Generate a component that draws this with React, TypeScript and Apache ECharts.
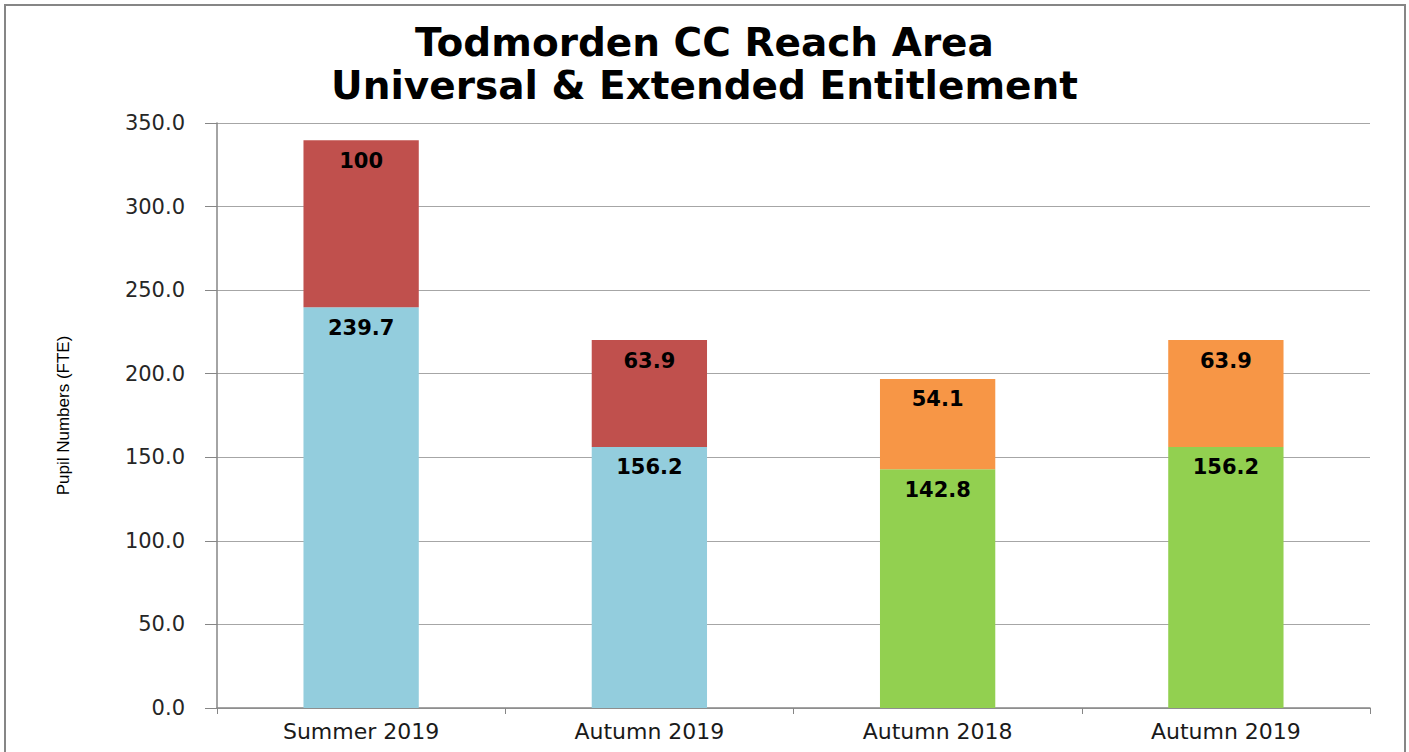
import React, { useEffect, useRef } from "react";
import * as echarts from "echarts";

const titleLines = ["Todmorden CC Reach Area", "Universal & Extended Entitlement"];
const categories = ["Summer 2019", "Autumn 2019", "Autumn 2018", "Autumn 2019"];
const universal = [239.7, 156.2, 142.8, 156.2];
const extended = [100, 63.9, 54.1, 63.9];
const universalColors = ["#93CDDD", "#93CDDD", "#92D050", "#92D050"];
const extendedColors = ["#C0504D", "#C0504D", "#F79646", "#F79646"];
const yName = "Pupil Numbers (FTE)";

export default function App() {
  const ref = useRef<HTMLDivElement>(null);
  useEffect(() => {
    if (!ref.current) return;
    const chart = echarts.init(ref.current, null, { renderer: "svg" });
    const labelStyle = {
      show: true,
      position: "insideTop" as const,
      distance: 10,
      color: "#000",
      fontFamily: "DejaVu Sans",
      fontWeight: "bold" as const,
      fontSize: 21,
      formatter: (p: any) => String(p.value),
    };
    chart.setOption({
      animation: false,
      backgroundColor: "#fff",
      title: {
        text: titleLines.join("\n"),
        left: "center",
        top: 16,
        textStyle: {
          fontFamily: "DejaVu Sans",
          fontWeight: "bold",
          fontSize: 39,
          lineHeight: 43,
          color: "#000",
        },
      },
      graphic: [
        {
          type: "rect",
          shape: { x: 5, y: 5, width: 1400, height: 760 },
          style: { fill: "none", stroke: "#868686", lineWidth: 2 },
          silent: true,
        },
      ],
      grid: { left: 217, right: 39, top: 123, bottom: 44, containLabel: false },
      xAxis: {
        type: "category",
        data: categories,
        axisLine: { show: true, lineStyle: { color: "#868686", width: 1.5 } },
        axisTick: { show: true, alignWithLabel: false, length: 6, lineStyle: { color: "#868686" } },
        axisLabel: {
          margin: 12,
          color: "#1a1a1a",
          fontFamily: "DejaVu Sans",
          fontSize: 22,
        },
      },
      yAxis: {
        type: "value",
        min: 0,
        max: 350,
        interval: 50,
        name: yName,
        nameLocation: "middle",
        nameGap: 145,
        nameRotate: 90,
        nameTextStyle: {
          fontFamily: "Liberation Sans Narrow, Liberation Sans",
          fontSize: 17,
          color: "#000",
        },
        axisLine: { show: true, lineStyle: { color: "#868686", width: 1.5 } },
        axisTick: { show: true, length: 12, lineStyle: { color: "#868686" } },
        splitLine: { show: true, lineStyle: { color: "#A6A6A6", width: 1 } },
        axisLabel: {
          margin: 32,
          color: "#262626",
          fontFamily: "DejaVu Sans",
          fontSize: 21,
          formatter: (v: number) => v.toFixed(1),
        },
      },
      series: [
        {
          name: "Universal",
          type: "bar",
          stack: "total",
          barWidth: "40%",
          data: universal.map((v, i) => ({ value: v, itemStyle: { color: universalColors[i] } })),
          label: labelStyle,
        },
        {
          name: "Extended",
          type: "bar",
          stack: "total",
          barWidth: "40%",
          data: extended.map((v, i) => ({ value: v, itemStyle: { color: extendedColors[i] } })),
          label: labelStyle,
        },
      ],
    });
    return () => chart.dispose();
  }, []);
  return (
    <div
      ref={ref}
      style={{ position: "fixed", left: 0, top: 0, width: 1409, height: 752 }}
    />
  );
}
